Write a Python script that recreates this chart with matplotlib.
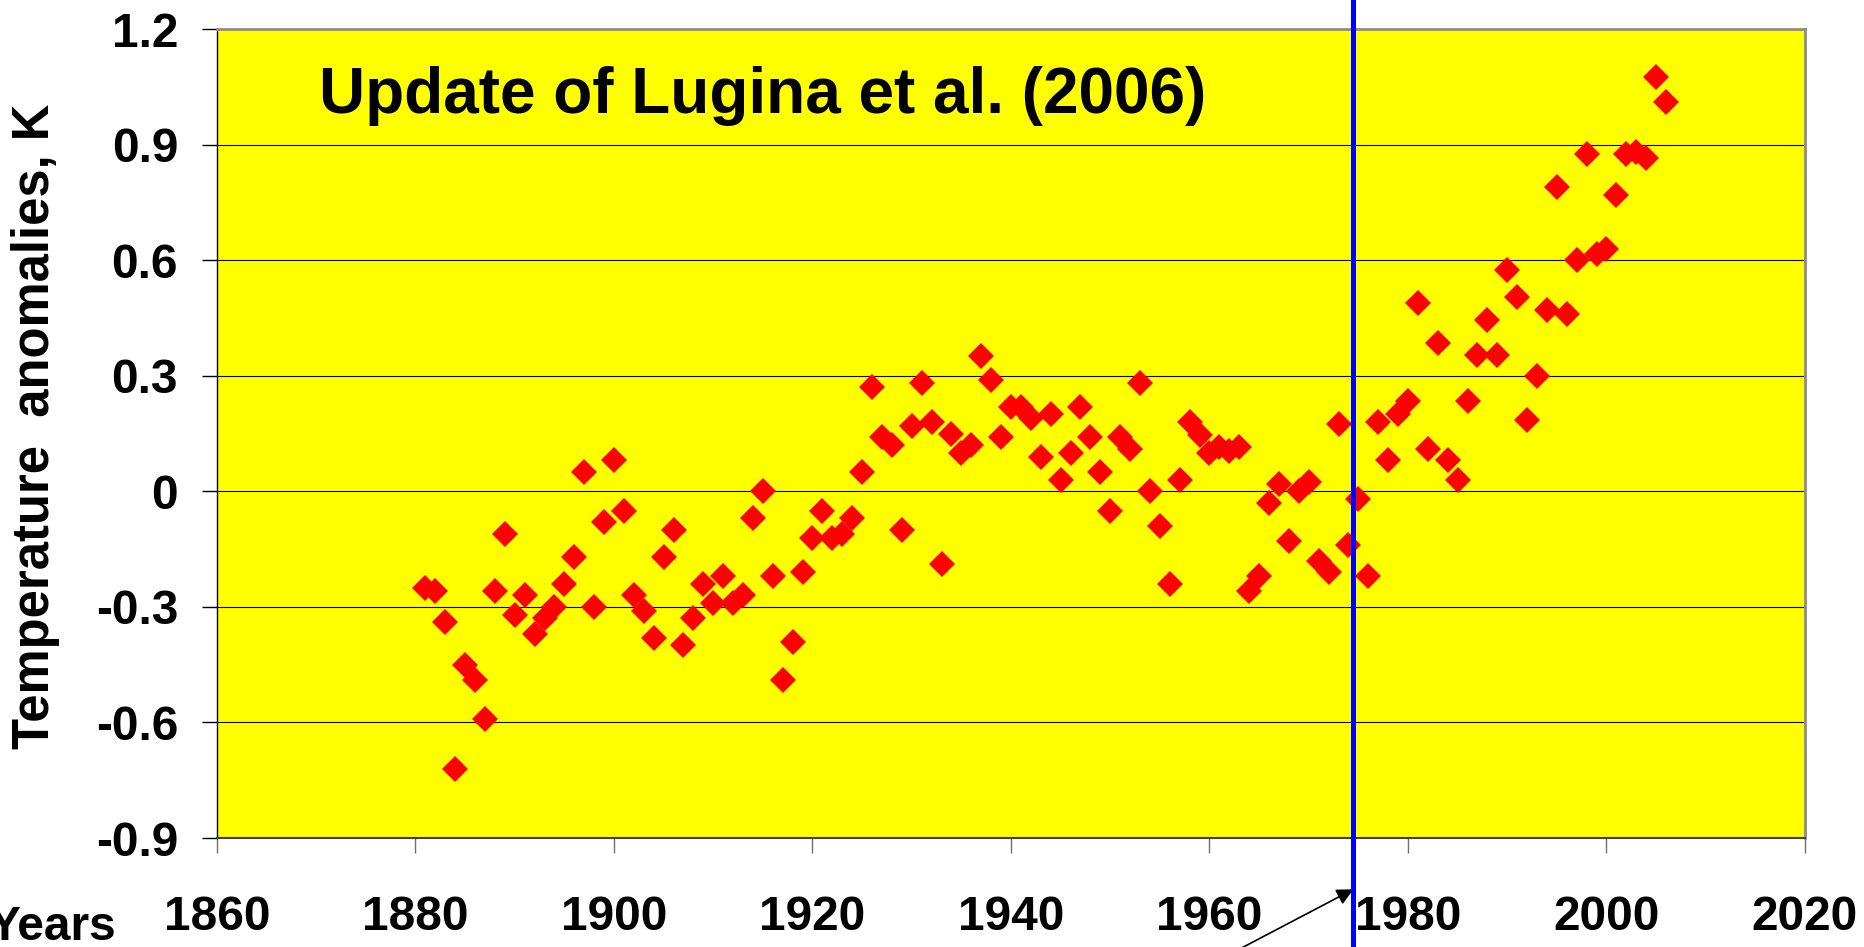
import matplotlib
matplotlib.use('Agg')
import matplotlib.pyplot as plt

plt.rcParams['font.family'] = ['Liberation Sans', 'DejaVu Sans']
plt.rcParams['font.weight'] = 'bold'

# Annual temperature anomalies (K)
years = list(range(1881, 2007))
anomalies = [
    -0.25, -0.26, -0.34, -0.72, -0.45, -0.49, -0.59, -0.26, -0.11, -0.32,   # 1881-1890
    -0.27, -0.37, -0.33, -0.30, -0.24, -0.17, 0.05, -0.30, -0.08, 0.08,     # 1891-1900
    -0.05, -0.27, -0.31, -0.38, -0.17, -0.10, -0.40, -0.33, -0.24, -0.29,   # 1901-1910
    -0.22, -0.29, -0.27, -0.07, 0.00, -0.22, -0.49, -0.39, -0.21, -0.12,    # 1911-1920
    -0.05, -0.12, -0.11, -0.07, 0.05, 0.27, 0.14, 0.12, -0.10, 0.17,        # 1921-1930
    0.28, 0.18, -0.19, 0.15, 0.10, 0.12, 0.35, 0.29, 0.14, 0.22,            # 1931-1940
    0.22, 0.19, 0.09, 0.20, 0.03, 0.10, 0.22, 0.14, 0.05, -0.05,            # 1941-1950
    0.14, 0.11, 0.28, 0.00, -0.09, -0.24, 0.03, 0.18, 0.145, 0.10,          # 1951-1960
    0.115, 0.105, 0.115, -0.26, -0.22, -0.03, 0.02, -0.13, 0.00, 0.025,     # 1961-1970
    -0.18, -0.21, 0.175, -0.14, -0.02, -0.22, 0.18, 0.08, 0.20, 0.235,      # 1971-1980
    0.49, 0.11, 0.385, 0.08, 0.03, 0.235, 0.355, 0.445, 0.355, 0.575,       # 1981-1990
    0.505, 0.185, 0.30, 0.47, 0.79, 0.46, 0.60, 0.875, 0.615, 0.63,         # 1991-2000
    0.77, 0.875, 0.88, 0.865, 1.075, 1.01,                                  # 2001-2006
]

x_ticks = [1860, 1880, 1900, 1920, 1940, 1960, 1980, 2000, 2020]
y_ticks = [-0.9, -0.6, -0.3, 0, 0.3, 0.6, 0.9, 1.2]
y_tick_labels = ['-0.9', '-0.6', '-0.3', '0', '0.3', '0.6', '0.9', '1.2']
break_year = 1974.5

fig = plt.figure(figsize=(18.65, 9.47), dpi=100)
ax = fig.add_axes([0.11635, 0.1151, 0.85147, 0.85427])
ax.set_facecolor('#FFFF00')

ax.plot(years, anomalies, linestyle='none', marker='D', markersize=13.5,
        markerfacecolor='#FF0000', markeredgewidth=0, zorder=3)

ax.set_xlim(1860, 2020)
ax.set_ylim(-0.9, 1.2)
ax.set_xticks(x_ticks)
ax.set_xticklabels([str(t) for t in x_ticks])
ax.set_yticks(y_ticks)
ax.set_yticklabels(y_tick_labels)

for y in y_ticks[1:-1]:
    ax.axhline(y, color='black', lw=0.8, zorder=1)

ax.tick_params(axis='x', direction='out', length=11, width=1, color='#707070',
               labelsize=34.5, pad=30)
ax.tick_params(axis='y', direction='out', length=11, width=1, color='black',
               labelsize=34.5, pad=17)

ax.spines['left'].set_color('black')
ax.spines['left'].set_linewidth(1)
ax.spines['bottom'].set_color('#404040')
ax.spines['bottom'].set_linewidth(1.5)
ax.spines['top'].set_color('#8C8C8C')
ax.spines['top'].set_linewidth(2)
ax.spines['right'].set_color('#8C8C8C')
ax.spines['right'].set_linewidth(2)

# Blue marker line running across the whole figure height
ax.axvline(break_year, ymin=-0.2, ymax=1.1, color='#0000FF', lw=3.6,
           clip_on=False, zorder=4)

ax.annotate('', xy=(break_year, -0.0634), xycoords=('data', 'axes fraction'),
            xytext=(1962.6, -0.14), textcoords=('data', 'axes fraction'),
            arrowprops=dict(arrowstyle='-|>', color='black', lw=1.2,
                            mutation_scale=25, shrinkA=0, shrinkB=0),
            annotation_clip=False)

ax.text(0.0642, 0.896, 'Update of Lugina et al. (2006)', transform=ax.transAxes,
        fontsize=46, fontweight='bold', ha='left', va='baseline')

fig.text(36 / 1865, 1 - 426 / 947, 'Temperature  anomalies, K', rotation=90,
         fontsize=36.5, fontweight='bold', ha='center', va='center')
fig.text(116 / 1865, 7 / 947, 'Years', fontsize=34.5, fontweight='bold',
         ha='right', va='baseline')

fig.savefig('out.png', dpi=100)
